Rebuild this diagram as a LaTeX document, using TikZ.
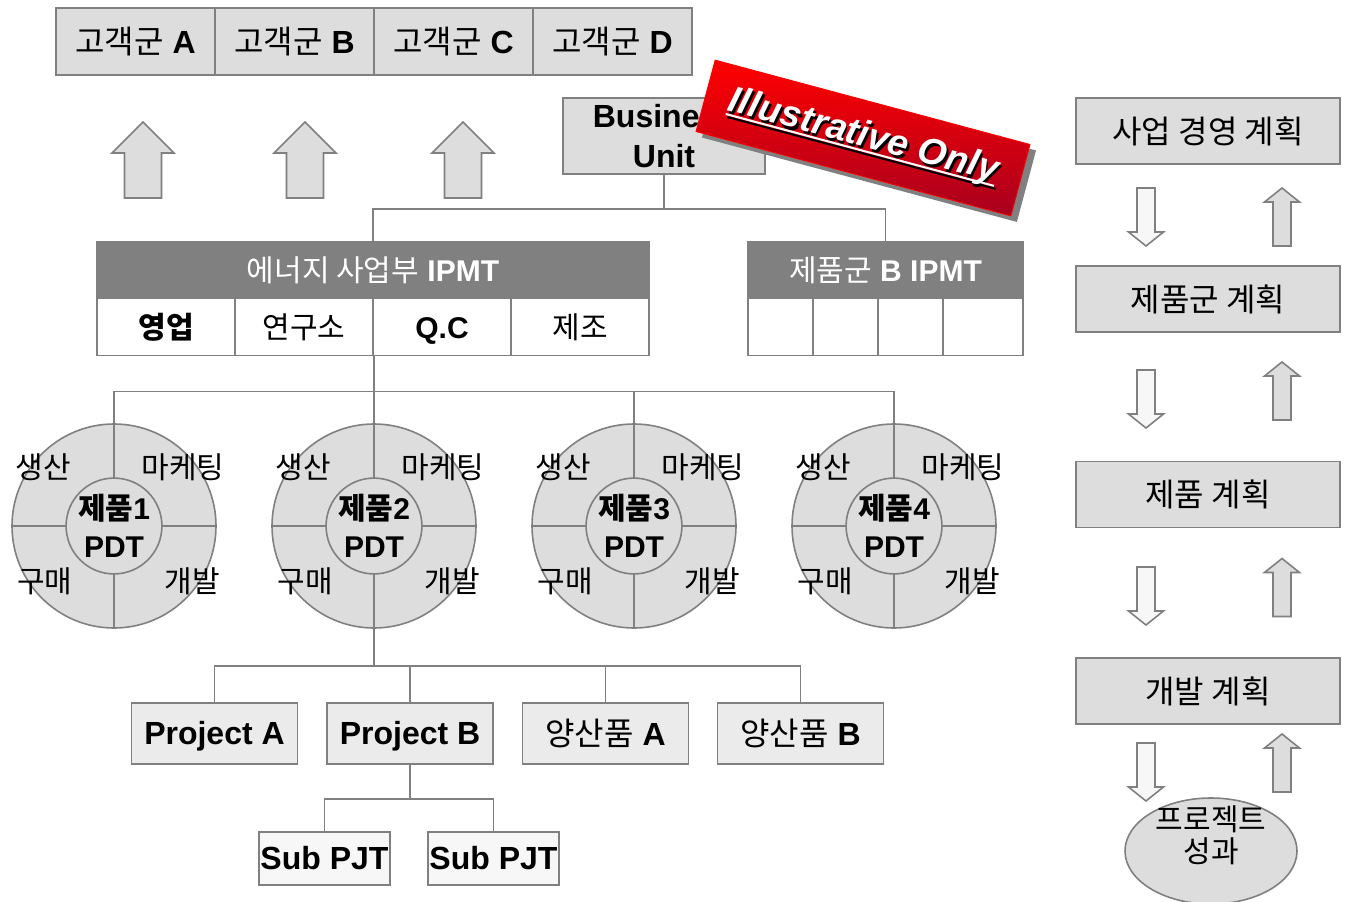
\documentclass[tikz,border=0pt]{standalone}
\usepackage{fontspec}
\setmainfont{Liberation Sans}
\newfontfamily\kr{Noto Sans CJK KR}
\usetikzlibrary{positioning, shapes.geometric}
\definecolor{boxgray}{HTML}{DDDDDD}
\definecolor{linegray}{HTML}{808080}
\definecolor{palegray}{HTML}{EBEBEB}
\definecolor{lightfill}{HTML}{F7F7F7}
\definecolor{stampred}{HTML}{FF0000}
\definecolor{stampdark}{HTML}{A8001E}

\newcommand\stampline[1]{\setbox0\hbox{#1}\rlap{\rule[-5pt]{\wd0}{2pt}}\box0}
\newcommand\stamptext[1]{\rlap{\hspace{2.5pt}\raisebox{-2.5pt}{\color{black}\stampline{#1}}}{\color{white}\stampline{#1}}}

\tikzset{
  pics/bigup/.style={code={
    \draw[draw=linegray, line width=1.6pt, fill=boxgray]
      (-18.5,38) -- (-18.5,-7) -- (-31,-7) -- (0,-38) -- (31,-7) -- (18.5,-7) -- (18.5,38) -- cycle;}},
  pics/smallup/.style={code={
    \draw[draw=linegray, line width=1.6pt, fill=boxgray]
      (-9,29) -- (-9,-15) -- (-17.5,-15) -- (0,-29) -- (17.5,-15) -- (9,-15) -- (9,29) -- cycle;}},
  pics/smalldown/.style={code={
    \draw[draw=linegray, line width=1.6pt, fill=lightfill]
      (-9,-29) -- (-9,15) -- (-17.5,15) -- (0,29) -- (17.5,15) -- (9,15) -- (9,-29) -- cycle;}},
}

\begin{document}
\begin{tikzpicture}[x=1pt, y=-1pt,
  box/.style={draw=linegray, line width=1.6pt, fill=boxgray, inner sep=0pt, align=center},
  hdr/.style={draw=linegray, line width=1.6pt, fill=linegray, text=white, inner sep=0pt, minimum height=57pt},
  cell/.style={draw=linegray, line width=1.6pt, fill=white, inner sep=0pt, minimum height=57pt},
  conn/.style={draw=linegray, line width=1.6pt},
  ring/.style={circle, draw=linegray, fill=boxgray, line width=1.6pt, minimum size=204pt, inner sep=0pt},
  hub/.style={circle, draw=linegray, fill=boxgray, line width=1.6pt, minimum size=91pt, inner sep=0pt, align=center},
  txt/.style={font=\fontsize{30}{38}\selectfont},
  bigtxt/.style={font=\fontsize{32}{40}\selectfont},
  capline/.style={text height=22pt, text depth=0pt}]
  \useasboundingbox (0,0) rectangle (1347,902);
  \clip (0,0) rectangle (1347,902);

  % customer groups
  \foreach \l [count=\n] in {A,B,C,D}
    \node[box, minimum width=159pt, minimum height=67pt, bigtxt] (cust\l) at (56+159*\n-79.5, 41.5) {{\kr 고객군} \textbf{\l}};
  \foreach \x in {143, 305, 463}
    \pic at (\x,160) {bigup};

  % business unit and IPMTs
  \node[box, minimum width=202pt, minimum height=76pt, font=\bfseries\fontsize{32}{40}\selectfont] (bu) at (664,136) {Business\\Unit};
  \node[hdr, minimum width=552pt, txt] (ipmtA) at (373,270) {{\kr 에너지 사업부} \textbf{IPMT}};
  \node[cell, minimum width=138pt, txt] (sales) at (166,327) {\kr\bfseries 영업};
  \node[cell, minimum width=138pt, txt] (lab) at (304,327) {\kr 연구소};
  \node[cell, minimum width=138pt, txt, capline] (qc) at (442,327) {\textbf{Q.C}};
  \node[cell, minimum width=138pt, txt] (mfg) at (580,327) {\kr 제조};
  \node[hdr, minimum width=275pt, txt] (ipmtB) at (885.5,270) {{\kr 제품군} \textbf{B IPMT}};
  \foreach \x/\w [count=\n] in {780.5/65, 845.5/65, 910.5/65, 983/80}
    \node[cell, minimum width=\w pt] (bcell\n) at (\x,327) {};
  \draw[conn] (bu.south) -- ++(0,34) coordinate (buj);
  \draw[conn] (ipmtA.north) |- (buj) -| (ipmtB.north);

  % product PDT rings
  \foreach \i/\x in {1/114, 2/374, 3/634, 4/894} {
    \node[ring] (pdt\i) at (\x,526) {};
    \draw[conn] (pdt\i.north) -- (pdt\i.south) (pdt\i.west) -- (pdt\i.east);
    \node[hub, txt] (hub\i) at (\x,526) {{\kr\bfseries 제품}\textbf{\i}\\\textbf{PDT}};
    \node[txt] (prod\i) at (\x-71,467) {\kr 생산};
    \node[txt] (mkt\i) at (\x+69,467) {\kr 마케팅};
    \node[txt] (buy\i) at (\x-69,581) {\kr 구매};
    \node[txt] (dev\i) at (\x+78,581) {\kr 개발};
  }
  \draw[conn] (lab.south east) -- ++(0,35) coordinate (ipj);
  \draw[conn] (pdt1.north) |- (ipj) -| (pdt4.north);
  \draw[conn] (pdt2.north) -- (pdt2.north |- ipj);
  \draw[conn] (pdt3.north) -- (pdt3.north |- ipj);

  % projects
  \node[box, fill=palegray, minimum width=166pt, minimum height=61pt, bigtxt, capline] (projA) at (214.5,733.5) {\textbf{Project A}};
  \node[box, fill=palegray, minimum width=166pt, minimum height=61pt, bigtxt, capline] (projB) at (410,733.5) {\textbf{Project B}};
  \node[box, fill=palegray, minimum width=166pt, minimum height=61pt, bigtxt] (massA) at (605.5,733.5) {{\kr 양산품} \textbf{A}};
  \node[box, fill=palegray, minimum width=166pt, minimum height=61pt, bigtxt] (massB) at (800.5,733.5) {{\kr 양산품} \textbf{B}};
  \draw[conn] (pdt2.south) -- ++(0,37) coordinate (pj);
  \draw[conn] (projA.north) |- (pj) -| (massB.north);
  \draw[conn] (projB.north) -- (projB.north |- pj);
  \draw[conn] (massA.north) -- (massA.north |- pj);
  \node[box, fill=lightfill, minimum width=131pt, minimum height=53pt, bigtxt, capline] (sub1) at (324.5,858.5) {\textbf{Sub PJT}};
  \node[box, fill=lightfill, minimum width=131pt, minimum height=53pt, bigtxt, capline] (sub2) at (493.5,858.5) {\textbf{Sub PJT}};
  \draw[conn] (projB.south) -- ++(0,34) coordinate (sj);
  \draw[conn] (sub1.north) |- (sj) -| (sub2.north);

  % planning column
  \node[box, minimum width=264pt, minimum height=66pt, font=\kr\fontsize{32}{38}\selectfont] (plan1) at (1208,131) {사업 경영 계획};
  \node[box, minimum width=264pt, minimum height=66pt, font=\kr\fontsize{32}{38}\selectfont] (plan2) at (1208,299) {제품군 계획};
  \node[box, minimum width=264pt, minimum height=66pt, font=\kr\fontsize{32}{38}\selectfont] (plan3) at (1208,494.5) {제품 계획};
  \node[box, minimum width=264pt, minimum height=66pt, font=\kr\fontsize{32}{38}\selectfont] (plan4) at (1208,691) {개발 계획};
  \node[ellipse, draw=linegray, fill=boxgray, line width=1.6pt, minimum width=172pt, minimum height=106pt] (result) at (1211,851) {};
  \node[font=\kr\fontsize{30}{32}\selectfont, align=center] (resultlbl) at (1211,835) {프로젝트\\성과};
  \foreach \yd/\yu in {217/217, 399/391, 596/587.5, 772/763} {
    \pic at (1146,\yd) {smalldown};
    \pic at (1282,\yu) {smallup};
  }

  % stamp
  \node[rotate=-15, fill=linegray, minimum width=326pt, minimum height=74pt] (stampshadow) at (869,144) {};
  \node[rotate=-15, top color=stampred, bottom color=stampdark, draw=stampred, line width=0.8pt,
        minimum width=326pt, minimum height=74pt, font=\bfseries\itshape\fontsize{37}{40}\selectfont] (stamp) at (863,138) {\stamptext{Illustrative Only}};
\end{tikzpicture}
\end{document}
